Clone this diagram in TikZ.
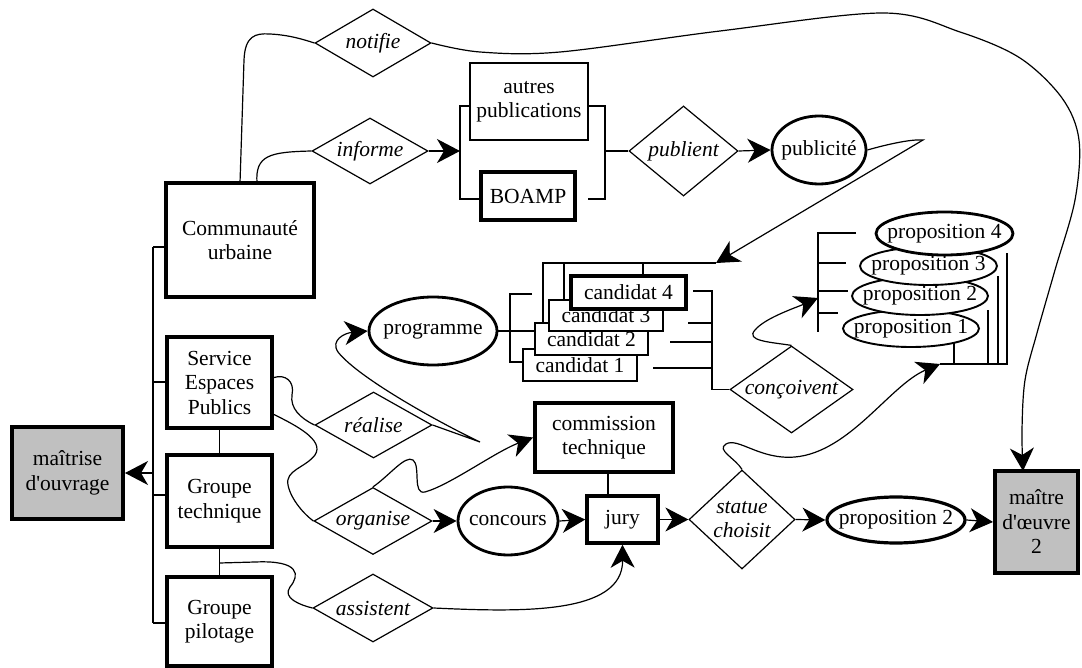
\documentclass[tikz,border=0pt]{standalone}
\usepackage{fontspec}
\setmainfont{Liberation Serif}
\usetikzlibrary{arrows.meta,shapes.geometric}
\newcommand\dfont{\fontsize{21.5}{24.5}\selectfont}
\newcommand\mbx[1]{\makebox[0pt]{#1}}
\definecolor{boxgray}{RGB}{192,192,192}
\begin{document}
\begin{tikzpicture}[x=1pt,y=-1pt,
  box/.style={draw, rectangle, line width=4pt, inner sep=0pt, align=center, font=\dfont, fill=white},
  thinbox/.style={box, line width=1.8pt},
  grbox/.style={box, fill=boxgray},
  ell/.style={draw, ellipse, line width=2.8pt, inner sep=0pt, font=\dfont, fill=white},
  thinell/.style={ell, line width=1.9pt},
  dia/.style={draw, diamond, line width=1.2pt, inner sep=0pt, align=center, font=\dfont\itshape, fill=white},
  link/.style={line width=1.2pt},
  arr/.style={link, -{Stealth[length=23pt,width=24pt,inset=7pt]}}]
\fill[white] (0,0) rectangle (1082,668);
\useasboundingbox (0,0) rectangle (1082,668);

% entities
\node[box, minimum width=148pt, minimum height=114pt] (commu) at (240,240) {Communauté\\urbaine};
\node[box, minimum width=105pt, minimum height=91pt] (service) at (219.5,382.5) {Service\\Espaces\\Publics};
\node[box, minimum width=105pt, minimum height=92pt] (gtech) at (219.5,501) {Groupe\\technique};
\node[box, minimum width=105pt, minimum height=89pt] (gpilot) at (219.5,621.5) {Groupe\\pilotage};
\node[grbox, minimum width=111pt, minimum height=92pt] (mo) at (67.5,473) {maîtrise\\d\textquotesingle ouvrage};
\node[thinbox, minimum width=118pt, minimum height=77pt] (autres) at (529,101.5) {autres\\publications};
\node[box, minimum width=94pt, minimum height=48pt] (boamp) at (528,196) {BOAMP};
\node[ell, minimum width=94pt, minimum height=68pt] (publicite) at (819,150) {\mbx{publicité}};
\node[ell, minimum width=128pt, minimum height=68pt] (programme) at (433,331) {\mbx{programme}};

\node[thinbox, minimum width=114pt, minimum height=32pt] (c1) at (580,365) {candidat 1};
\node[thinbox, minimum width=113pt, minimum height=32pt] (c2) at (591.5,339) {candidat 2};
\node[thinbox, minimum width=114pt, minimum height=31pt] (c3) at (606,315.5) {candidat 3};
\node[box, minimum width=115pt, minimum height=33pt] (c4) at (628.5,292.5) {candidat 4};

\node[thinell, minimum width=136pt, minimum height=37pt] (p1) at (911,328.5) {\mbx{proposition 1}};
\node[thinell, minimum width=136pt, minimum height=38pt] (p2) at (920,296) {\mbx{proposition 2}};
\node[thinell, minimum width=137pt, minimum height=38pt] (p3) at (928.5,266) {\mbx{proposition 3}};
\node[ell, minimum width=137pt, minimum height=43pt] (p4) at (944.5,233.5) {\mbx{proposition 4}};

\node[box, minimum width=138pt, minimum height=69pt] (commission) at (604,437.5) {commission\\technique};
\node[ell, minimum width=100pt, minimum height=68pt] (concours) at (508,521) {\mbx{concours}};
\node[box, line width=3.5pt, minimum width=71pt, minimum height=47pt] (jury) at (622.5,519.5) {jury};
\node[ell, line width=3.2pt, minimum width=138pt, minimum height=46pt] (prop2f) at (896,520) {\mbx{proposition 2}};
\node[grbox, minimum width=83pt, minimum height=102pt] (moe) at (1036.5,522) {maître\\d\textquotesingle œuvre\\2};

% relations
\node[dia, minimum width=116pt, minimum height=68pt, aspect=1.7] (notifie) at (373,43) {notifie};
\node[dia, minimum width=116pt, minimum height=66pt, aspect=1.76] (informe) at (370,151) {informe};
\node[dia, minimum width=109pt, minimum height=90pt, aspect=1.21] (publient) at (683.5,151) {publient};
\node[dia, minimum width=123pt, minimum height=87pt, aspect=1.41] (concoivent) at (791.5,389.5) {conçoivent};
\node[dia, minimum width=117pt, minimum height=66pt, aspect=1.77] (realise) at (373.5,425) {réalise};
\node[dia, minimum width=118pt, minimum height=67pt, aspect=1.76] (organise) at (373,521) {organise};
\node[dia, minimum width=120pt, minimum height=68pt, aspect=1.76] (assistent) at (373,608) {assistent};
\node[dia, minimum width=106pt, minimum height=99pt, aspect=1.07] (statue) at (742,519.5) {statue\\choisit};

% left bus
\coordinate (b1) at (153,247);
\coordinate (b2) at (153,382);
\coordinate (bm) at (153,473);
\coordinate (b3) at (153,495);
\coordinate (b4) at (153,623);
\draw[link] (b1) -- (b4);
\draw[link] (b1) -- (b1 -| commu.west);
\draw[link] (b2) -- (b2 -| service.west);
\draw[link] (b3) -- (b3 -| gtech.west);
\draw[link] (b4) -- (b4 -| gpilot.west);
\draw[arr] (bm) -- (mo.east);
\draw[link] (service.south) -- (gtech.north);
\draw[link] (gtech.south) -- (gpilot.north);
\coordinate (gg) at (219.5,563);

% Communaute -> notifie, informe
\coordinate (cn1) at (240,183);
\coordinate (cn2) at (257,183);
\draw[link] (cn1) -- (244,60) .. controls (245,36) and (255,33) .. (270,34) .. controls (290,35) and (305,40) .. (notifie.west);
\draw[link] (cn2) .. controls (255,155) and (270,152) .. (informe.west);

% informe -> publications bracket
\coordinate (bl) at (460,151);
\coordinate (blt) at (460,106);
\coordinate (blb) at (460,199);
\draw[arr] (informe.east) -- (bl);
\draw[link] (blt -| autres.west) -- (blt) -- (blb) -- (blb -| boamp.west);
\coordinate (brt) at (605,106);
\coordinate (brb) at (605,199);
\coordinate (br) at (605,151);
\draw[link] (brt -| autres.east) -- (brt) -- (brb) -- ++(-17,0);
\draw[link] (br) -- (publient.west);
\draw[arr] (publient.east) -- (publicite.west);

% publicite -> candidats
\coordinate (ct) at (716,263);
\draw[arr] (publicite.east) .. controls (885,145) and (910,139) .. (923,140) -- (ct);
\coordinate (kt) at (543,263);
\coordinate (k3) at (564,263);
\coordinate (k4) at (643,263);
\draw[link] (ct) -- (kt) -- (kt |- c2.north);
\draw[link] (k3) -- (k3 |- c3.north);
\draw[link] (k4) -- (k4 |- c4.north);

% programme -> candidats
\coordinate (pt) at (510,294);
\coordinate (pb) at (510,362);
\draw[link] (programme.east) -- (programme.east -| c2.west);
\draw[link] ([xshift=22pt]pt) -- (pt) -- (pb) -- (pb -| c1.west);

% candidats -> concoivent
\coordinate (r1) at (712,291);
\coordinate (r2) at (712,323);
\coordinate (r3) at (712,342);
\coordinate (r4) at (712,368);
\coordinate (r5) at (712,389.5);
\draw[link] ([xshift=-19pt]r1) -- (r1) -- (r5) -- (concoivent.west);
\draw[link] ([xshift=-24pt]r2) -- (r2);
\draw[link] ([xshift=-42pt]r3) -- (r3);
\draw[link] ([xshift=-59pt]r4) -- (r4);

% concoivent -> propositions
\coordinate (qm) at (818,298);
\draw[arr] (concoivent.north) .. controls (770,342) and (745,341) .. (755,330) .. controls (765,318) and (795,308) .. (qm);
\coordinate (qt) at (818,233);
\coordinate (qb) at (818,332);
\coordinate (q3) at (818,263);
\coordinate (q2) at (818,291);
\coordinate (q1) at (818,313);
\draw[link] ([xshift=38pt]qt) -- (qt) -- (qb);
\draw[link] (q3) -- ++(28,0);
\draw[link] (q2) -- ++(30,0);
\draw[link] (q1) -- ++(20,0);

% propositions right bracket
\coordinate (sh) at (940,364);
\coordinate (s1) at (954,364);
\coordinate (s2) at (988,364);
\coordinate (s3) at (998,364);
\coordinate (s4) at (1007,364);
\draw[link] (sh) -- (s4) -- ++(0,-111);
\draw[link] (s1) -- ++(0,-21);
\draw[link] (s2) -- ++(0,-54);
\draw[link] (s3) -- ++(0,-88);

% statue -> propositions
\draw[arr] (statue.north) .. controls (735,458) and (716,450) .. (726,444) .. controls (738,437) and (760,460) .. (795,457) .. controls (850,452) and (890,385) .. (sh);

% notifie -> maitre d'oeuvre
\coordinate (moeIn) at (1023,471);
\draw[arr] plot[smooth, tension=0.55] coordinates {(notifie.east) (480,52) (560,52) (720,31) (883,13) (960,32) (1020,58) (1062,98) (1079,140) (1075,200) (1055,270) (1037,333) (1025,380) (1022,430) (moeIn)};

% Service -> realise -> programme
\draw[link] ([yshift=5pt]service.east) .. controls (285,374) and (295,381) .. (292,395) .. controls (290,408) and (300,418) .. (realise.west);
\draw[arr] (realise.east) -- (480,442) .. controls (450,428) and (360,380) .. (338,352) .. controls (330,340) and (345,333) .. (programme.west);

% Service -> organise -> concours / commission
\draw[link] ([yshift=-32pt]service.east) .. controls (295,425) and (325,440) .. (315,455) .. controls (305,468) and (285,470) .. (288,485) .. controls (291,500) and (305,515) .. (organise.west);
\draw[arr] (organise.north) .. controls (390,475) and (405,455) .. (413,460) .. controls (421,466) and (412,495) .. (425,492) .. controls (450,485) and (495,452) .. (commission.west);
\draw[arr] (organise.east) -- (concours.west);
\draw[arr] (concours.east) -- (jury.west);
\coordinate (cj) at ([xshift=4pt]commission.south);
\draw[link] (cj) -- (cj |- jury.north);

% Groupes -> assistent -> jury
\draw[link] (gg) -- (255,562) .. controls (300,560) and (300,575) .. (290,587) .. controls (282,598) and (300,605) .. (assistent.west);
\draw[arr] (assistent.east) .. controls (520,612) and (623,615) .. (jury.south);

% jury -> statue -> proposition 2 -> maitre d'oeuvre
\draw[arr] (jury.east) -- (statue.west);
\draw[arr] (statue.east) -- (prop2f.west);
\draw[arr] (prop2f.east) -- (moe.west);
\end{tikzpicture}
\end{document}
